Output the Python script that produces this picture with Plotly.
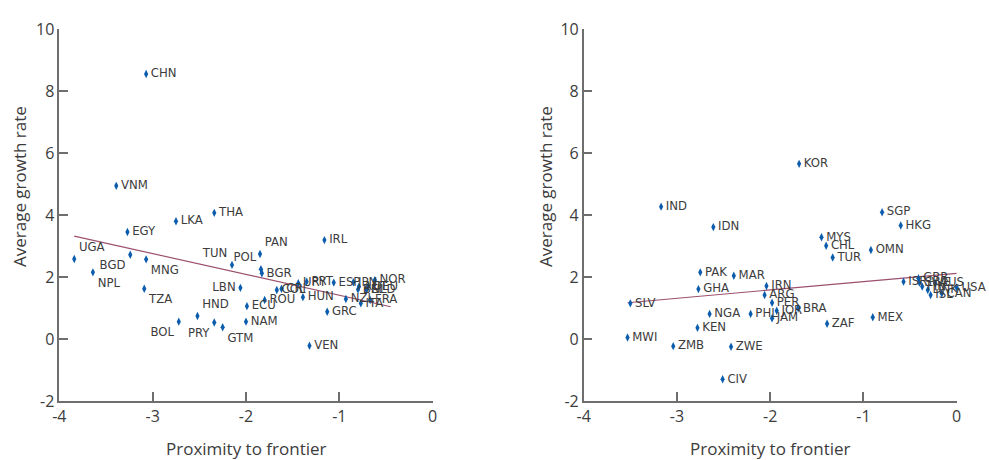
import plotly.graph_objects as go

# ---------------- data ----------------
left_codes = ["CHN", "VNM", "THA", "LKA", "EGY", "UGA", "NPL", "BGD", "MNG", "TZA",
              "BOL", "HND", "PRY", "GTM", "TUN", "LBN", "ECU", "NAM", "PAN", "POL",
              "BGR", "ROU", "COL", "CRI", "URY", "PRT", "HUN", "GRC", "VEN", "IRL",
              "ESP", "NZL", "JPN", "AUT", "BEL", "ITA", "DEU", "NLD", "FRA", "NOR"]
left_x = [-3.07, -3.39, -2.34, -2.75, -3.27, -3.84, -3.64, -3.24, -3.07, -3.09,
          -2.72, -2.52, -2.34, -2.25, -2.15, -2.06, -1.99, -2.00, -1.85, -1.84,
          -1.83, -1.80, -1.67, -1.62, -1.44, -1.35, -1.39, -1.13, -1.32, -1.16,
          -1.06, -0.93, -0.85, -0.79, -0.80, -0.77, -0.69, -0.71, -0.67, -0.62]
left_y = [8.55, 4.94, 4.07, 3.80, 3.45, 2.58, 2.15, 2.72, 2.57, 1.62,
          0.56, 0.74, 0.53, 0.38, 2.39, 1.65, 1.06, 0.56, 2.74, 2.25,
          2.12, 1.26, 1.58, 1.62, 1.80, 1.85, 1.35, 0.88, -0.22, 3.19,
          1.82, 1.29, 1.83, 1.69, 1.60, 1.15, 1.69, 1.58, 1.26, 1.90]
left_pos = ["middle right", "middle right", "middle right", "middle right", "middle right",
            "top right", "bottom right", "bottom left", "bottom right", "bottom right",
            "bottom left", "top right", "bottom left", "bottom right", "top left",
            "middle left", "middle right", "middle right", "top right", "top left",
            "middle right", "middle right", "middle right", "middle right", "middle right",
            "middle right", "middle right", "middle right", "middle right", "middle right",
            "middle right", "middle right", "middle right", "middle right", "middle right",
            "middle right", "middle right", "middle right", "middle right", "middle right"]

right_codes = ["KOR", "IND", "IDN", "SGP", "HKG", "MYS", "CHL", "TUR", "OMN", "PAK",
               "MAR", "GHA", "SLV", "IRN", "ARG", "PER", "JOR", "JAM", "BRA", "PHL",
               "NGA", "KEN", "ZAF", "MWI", "ZMB", "ZWE", "CIV", "MEX", "ISR", "GBR",
               "SWE", "FIN", "DNK", "ISL", "AUS", "CAN", "USA", "CHE"]
right_x = [-1.69, -3.17, -2.61, -0.80, -0.60, -1.45, -1.40, -1.33, -0.92, -2.75,
           -2.39, -2.77, -3.50, -2.04, -2.06, -1.98, -1.93, -1.98, -1.70, -2.21,
           -2.65, -2.78, -1.39, -3.53, -3.04, -2.42, -2.51, -0.90, -0.57, -0.41,
           -0.40, -0.37, -0.31, -0.28, -0.23, -0.16, 0.00, 0.08]
right_y = [5.65, 4.27, 3.61, 4.09, 3.66, 3.28, 3.01, 2.63, 2.87, 2.15,
           2.04, 1.61, 1.15, 1.71, 1.42, 1.17, 0.91, 0.67, 0.99, 0.81,
           0.81, 0.36, 0.49, 0.05, -0.23, -0.25, -1.30, 0.70, 1.85, 1.96,
           1.82, 1.69, 1.58, 1.42, 1.80, 1.47, 1.66, 1.00]

left_trend_x = [-3.84, -0.45]
left_trend_y = [3.32, 1.04]
right_trend_x = [-3.53, 0.0]
right_trend_y = [1.17, 2.12]

x_ticks = [-4, -3, -2, -1, 0]
y_ticks = [-2, 0, 2, 4, 6, 8, 10]

# ---------------- styling ----------------
BLUE = "#0b5cad"
TREND = "#9c4f6e"
AXIS = "#6e6e6e"
TXT = "#3c3c3c"
LABEL_FONT = dict(family="Liberation Sans Narrow, DejaVu Sans Condensed, sans-serif", size=13, color=TXT)
TICK_FONT = dict(family="Open Sans, Noto Sans, sans-serif", size=16, color=TXT)
TITLE_FONT = dict(family="Open Sans, Noto Sans, sans-serif", size=17, color=TXT)

fig = go.Figure()

fig.add_trace(go.Scatter(x=left_trend_x, y=left_trend_y, mode="lines",
                         line=dict(color=TREND, width=1.2), xaxis="x", yaxis="y",
                         hoverinfo="skip", showlegend=False))
fig.add_trace(go.Scatter(x=left_x, y=left_y, text=left_codes, mode="markers+text",
                         textposition=left_pos, textfont=LABEL_FONT,
                         marker=dict(symbol="diamond-tall", size=6, color=BLUE),
                         cliponaxis=False, xaxis="x", yaxis="y", showlegend=False))

fig.add_trace(go.Scatter(x=right_trend_x, y=right_trend_y, mode="lines",
                         line=dict(color=TREND, width=1.2), xaxis="x2", yaxis="y2",
                         hoverinfo="skip", showlegend=False))
fig.add_trace(go.Scatter(x=right_x, y=right_y, text=right_codes, mode="markers+text",
                         textposition="middle right", textfont=LABEL_FONT,
                         marker=dict(symbol="diamond-tall", size=6, color=BLUE),
                         cliponaxis=False, xaxis="x2", yaxis="y2", showlegend=False))

ydom = [(460 - 401) / 460, (460 - 29) / 460]
xdom1 = [59.3 / 989, 432.7 / 989]
xdom2 = [583.7 / 989, 956.7 / 989]

def xaxis_cfg(dom, anchor):
    return dict(domain=dom, anchor=anchor, range=[-4, 0], tickvals=x_ticks,
                ticktext=[str(v) for v in x_ticks], ticks="inside", ticklen=9,
                tickcolor=AXIS, tickwidth=1.5, showline=True, linecolor=AXIS,
                linewidth=1.5, showgrid=False, zeroline=False, tickfont=TICK_FONT,
                automargin=False, fixedrange=True)

def yaxis_cfg(anchor):
    return dict(domain=ydom, anchor=anchor, range=[-2, 10], tickvals=y_ticks,
                ticktext=[str(v) for v in y_ticks], ticks="inside", ticklen=9,
                tickcolor=AXIS, tickwidth=1.5, showline=True, linecolor=AXIS,
                linewidth=1.5, showgrid=False, zeroline=False, tickfont=TICK_FONT,
                automargin=False, fixedrange=True)

annotations = []
for xc in [(xdom1[0] + xdom1[1]) / 2, (xdom2[0] + xdom2[1]) / 2]:
    annotations.append(dict(text="Proximity to frontier", x=xc, y=(460 - 448) / 460,
                            xref="paper", yref="paper", showarrow=False,
                            xanchor="center", yanchor="middle", font=TITLE_FONT))
for xt in [19 / 989, 545 / 989]:
    annotations.append(dict(text="Average growth rate", x=xt, y=(460 - 187) / 460,
                            xref="paper", yref="paper", showarrow=False, textangle=-90,
                            xanchor="center", yanchor="middle", font=TITLE_FONT))

fig.update_layout(
    width=989, height=460,
    margin=dict(l=0, r=0, t=0, b=0, autoexpand=False),
    paper_bgcolor="white", plot_bgcolor="white",
    xaxis=xaxis_cfg(xdom1, "y"), yaxis=yaxis_cfg("x"),
    xaxis2=xaxis_cfg(xdom2, "y2"), yaxis2=yaxis_cfg("x2"),
    annotations=annotations,
    showlegend=False,
)

fig.write_html("out.html", config={"displayModeBar": False},
               post_script="document.body.style.margin='0px';document.body.style.overflow='hidden';")
